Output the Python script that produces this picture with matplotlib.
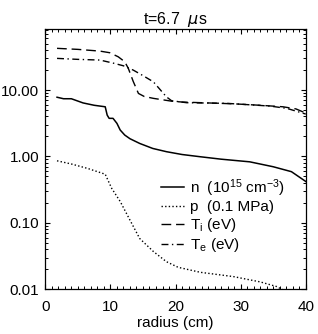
import numpy as np
import matplotlib
matplotlib.use('Agg')
import matplotlib.pyplot as plt
from matplotlib.ticker import MultipleLocator, LogLocator, FormatStrFormatter, NullFormatter

plt.rcParams['font.family'] = ['Liberation Sans', 'DejaVu Sans']
plt.rcParams['mathtext.default'] = 'regular'

# --- dados ---
r_n = [1.8, 2.8, 4.0, 5.8, 7.5, 9.2, 9.5, 9.8, 10.4, 11.0, 11.5, 12.2, 13.0,
       14.5, 16.5, 18.6, 21.0, 23.8, 27.0, 31.4, 35.0, 37.8, 40.0]
n_dens = [7.8, 7.4, 7.4, 6.4, 5.9, 5.6, 4.2, 3.75, 3.75, 3.15, 2.5, 2.1, 1.85,
          1.57, 1.32, 1.18, 1.07, 0.99, 0.91, 0.83, 0.70, 0.59, 0.42]

r_p = [1.8, 4.0, 6.5, 9.2, 10.2, 11.5, 13.0, 14.5, 16.6, 18.6, 20.4, 23.8,
       28.9, 33.0, 35.5, 36.5]
p_press = [0.86, 0.77, 0.66, 0.54, 0.33, 0.21, 0.11, 0.058, 0.037, 0.026,
           0.0214, 0.018, 0.0155, 0.0129, 0.011, 0.0098]

r_ti = [1.8, 5.0, 8.4, 9.9, 11.2, 12.2, 12.75, 13.5, 14.3, 15.2, 16.6, 19.4,
        21.0, 26.0, 29.0, 33.0, 36.5, 38.5, 40.0]
t_i = [42.5, 41.0, 38.6, 36.5, 31.7, 26.7, 21.2, 13.5, 8.9, 8.0, 7.5, 6.8,
       6.6, 6.35, 6.2, 5.9, 5.6, 5.2, 4.5]

r_te = [1.8, 5.0, 8.4, 10.4, 12.0, 13.5, 15.0, 16.6, 18.6, 19.4, 21.7, 26.0,
        28.0, 34.5, 37.1, 40.0]
t_e = [30.0, 29.0, 28.3, 25.5, 23.2, 20.0, 16.5, 13.3, 7.9, 6.9, 6.45, 6.35,
       6.3, 5.74, 5.3, 4.35]

labels = [r'n  (10$^{15}$ cm$^{-3}$)', 'p  (0.1 MPa)', r'T$_i$ (eV)', r'T$_e$ (eV)']

fig = plt.figure(figsize=(3.18, 3.34), dpi=100)
ax = fig.add_axes([0.1425, 0.134, 0.819, 0.778])

lw = 1.0
ax.plot(r_n, n_dens, color='black', lw=1.1, label=labels[0])
ax.plot(r_p, p_press, color='black', lw=lw, linestyle=(0, (1, 1.6)), label=labels[1])
ax.plot(r_ti, t_i, color='black', lw=lw, linestyle=(0, (7, 3.5)), label=labels[2])
ax.plot(r_te, t_e, color='black', lw=lw, linestyle=(0, (5, 2.5, 1, 2.5)), label=labels[3])

ax.set_yscale('log')
ax.set_xlim(0, 40)
ax.set_ylim(0.01, 82)

ax.xaxis.set_major_locator(MultipleLocator(10))
ax.xaxis.set_minor_locator(MultipleLocator(1))
ax.yaxis.set_major_locator(LogLocator(base=10, numticks=10))
ax.yaxis.set_minor_locator(LogLocator(base=10, subs=np.arange(2, 10), numticks=10))
ax.yaxis.set_major_formatter(FormatStrFormatter('%.2f'))
ax.yaxis.set_minor_formatter(NullFormatter())

ax.tick_params(which='both', direction='in', top=True, right=True, labelsize=11)
ax.tick_params(which='major', length=3.8, width=0.8)
ax.tick_params(which='minor', length=2.2, width=0.7)
ax.tick_params(axis='y', pad=4.5)
ax.tick_params(axis='x', pad=8)
for s in ax.spines.values():
    s.set_linewidth(0.9)

ax.set_xlabel('radius (cm)', fontsize=11, labelpad=1.5)
ax.set_title(r't=6.7  $\mathit{\mu}$s', fontsize=11.5, pad=4)

ax.legend(loc='upper left', bbox_to_anchor=(0.505, 0.47), bbox_transform=fig.transFigure,
          frameon=False, fontsize=11, handlelength=1.5, handletextpad=0.45,
          labelspacing=0.12, borderpad=0, borderaxespad=0)

fig.savefig('out.png', dpi=100)
